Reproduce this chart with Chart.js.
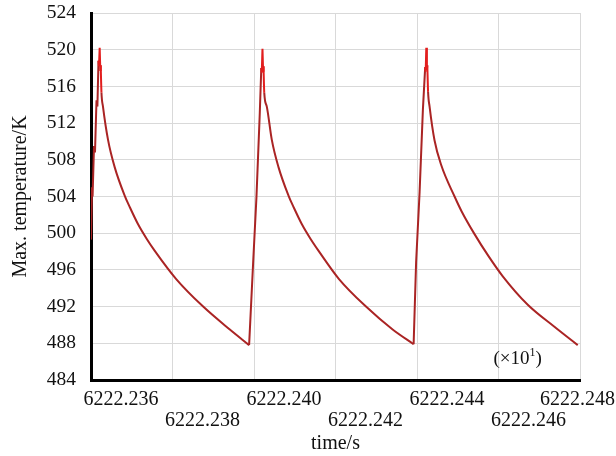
<!DOCTYPE html>
<html>
<head>
<meta charset="utf-8">
<title>Max. temperature</title>
<script src="https://cdn.jsdelivr.net/npm/chart.js@4.4.1/dist/chart.umd.min.js"></script>
<style>
  html, body { margin: 0; padding: 0; background: #fff; }
  #wrap { width: 616px; height: 456px; }
</style>
</head>
<body>
<div id="wrap"><canvas id="chart" width="616" height="456"></canvas></div>
<script>
"use strict";

// values
const timeS = [
  6222.236000, 6222.236025, 6222.236039, 6222.236074, 6222.236098, 6222.236135,
  6222.236157, 6222.236184, 6222.236196, 6222.236213, 6222.236228, 6222.236238,
  6222.236257, 6222.236294, 6222.236417, 6222.236581, 6222.236826, 6222.236956,
  6222.237152, 6222.237365, 6222.237561, 6222.238091, 6222.238752, 6222.239407,
  6222.239880,
  6222.239978, 6222.240061, 6222.240142, 6222.240179, 6222.240191, 6222.240208,
  6222.240223, 6222.240233, 6222.240252, 6222.240314, 6222.240436, 6222.240601,
  6222.240846, 6222.240976, 6222.241172, 6222.241385, 6222.241581, 6222.242086,
  6222.242748, 6222.243402, 6222.243917,
  6222.243978, 6222.244064, 6222.244145, 6222.244201, 6222.244213, 6222.244228,
  6222.244243, 6222.244253, 6222.244272, 6222.244309, 6222.244431, 6222.244596,
  6222.244922, 6222.245093, 6222.245412, 6222.245755, 6222.246105, 6222.246718,
  6222.247372, 6222.247944
];
const maxTempK = [
  499.3, 505.0, 504.0, 509.5, 508.8, 514.5,
  513.8, 518.8, 518.2, 520.2, 517.8, 518.3,
  515.3, 513.8, 510.2, 507.2, 504.1, 502.8,
  501.0, 499.4, 498.1, 495.0, 492.0, 489.5,
  487.8,
  496.7, 504.0, 513.1, 518.0, 517.5, 520.1,
  517.7, 518.2, 515.3, 513.8, 510.2, 507.2,
  504.1, 502.8, 501.0, 499.4, 498.1, 495.0,
  492.0, 489.5, 487.9,
  496.8, 504.5, 513.5, 518.1, 517.6, 520.2,
  517.8, 518.3, 515.4, 513.8, 510.1, 507.4,
  504.0, 502.4, 499.9, 497.5, 495.3, 492.2,
  489.8, 487.8
];
const xTickLabels = ["6222.236", "6222.238", "6222.240", "6222.242", "6222.244", "6222.246", "6222.248"];
const yTickValues = [484, 488, 492, 496, 500, 504, 508, 512, 516, 520, 524];

const serif = '"Liberation Serif", "Times New Roman", serif';
const gridColor = "#d9d9d9";
const lineColor = "rgb(170, 36, 36)";
const peakColor = "rgb(226, 30, 30)";

// long falling runs are the cooling curves: drawn smooth, the rest straight
const inDecay = new Array(maxTempK.length).fill(false);
const decayEdge = new Array(maxTempK.length).fill(false);
for (let i = 0; i < maxTempK.length - 1; ) {
  let j = i;
  while (j + 1 < maxTempK.length && maxTempK[j + 1] < maxTempK[j]) j++;
  if (j - i >= 5) {
    for (let k = i; k <= j; k++) inDecay[k] = true;
    decayEdge[i] = decayEdge[j] = true;
  }
  i = Math.max(j, i + 1);
}

const smoothData = timeS.map((t, i) => ({ x: t, y: inDecay[i] ? maxTempK[i] : null }));
const straightData = timeS.map((t, i) => ({ x: t, y: (!inDecay[i] || decayEdge[i]) ? maxTempK[i] : null }));

function peakSegment(c) {
  return (c.p0.parsed.y > 514 && c.p1.parsed.y > 514) ? peakColor : undefined;
}

// x labels sit to the right of their ticks, alternating in two rows
const xLabelPlugin = {
  id: "xLabels",
  afterDraw(chart) {
    const ctx = chart.ctx;
    const xs = chart.scales.x;
    const area = chart.chartArea;
    ctx.save();
    ctx.fillStyle = "#111";
    ctx.font = "20px " + serif;
    ctx.textAlign = "center";
    ctx.textBaseline = "alphabetic";
    xTickLabels.forEach((lab, i) => {
      const px = xs.getPixelForValue(Number(lab));
      const w = ctx.measureText(lab).width;
      const cx = Math.min(px + 30, chart.width - 1 - w / 2);
      const cy = i % 2 === 0 ? area.bottom + 25 : area.bottom + 45.5;
      ctx.fillText(lab, cx, cy);
    });

    // (×10¹) note
    let x = xs.getPixelForValue(6222.246) - 5;
    const base = area.bottom - 16;
    ctx.textAlign = "left";
    ctx.font = "19px " + serif;
    ctx.fillText("(\u00d710", x, base);
    x += ctx.measureText("(\u00d710").width;
    ctx.font = "12px " + serif;
    ctx.fillText("1", x, base - 8);
    x += ctx.measureText("1").width;
    ctx.font = "19px " + serif;
    ctx.fillText(")", x, base);
    ctx.restore();
  }
};

const ctx = document.getElementById("chart").getContext("2d");

new Chart(ctx, {
  type: "line",
  data: {
    datasets: [{
      label: "Max. temperature",
      data: straightData,
      borderColor: lineColor,
      borderWidth: 2,
      pointRadius: 0,
      tension: 0,
      spanGaps: false,
      segment: { borderColor: peakSegment }
    }, {
      label: "cooling",
      data: smoothData,
      borderColor: lineColor,
      borderWidth: 2,
      pointRadius: 0,
      cubicInterpolationMode: "monotone",
      spanGaps: false,
      segment: { borderColor: peakSegment }
    }]
  },
  options: {
    responsive: false,
    animation: false,
    layout: { padding: { left: 0, right: 36, top: 13, bottom: 0 } },
    plugins: {
      legend: { display: false },
      tooltip: { enabled: false }
    },
    scales: {
      x: {
        type: "linear",
        min: 6222.236,
        max: 6222.248,
        afterBuildTicks: scale => {
          scale.ticks = xTickLabels.map(v => ({ value: Number(v) }));
        },
        afterFit: scale => {
          scale.height = 76;
          scale.paddingLeft = 0;
          scale.paddingRight = 0;
        },
        ticks: { display: false },
        grid: { color: gridColor, lineWidth: 1, drawTicks: false },
        border: { color: "#000", width: 3 },
        title: {
          display: true,
          text: "time/s",
          color: "#111",
          font: { family: serif, size: 20 },
          padding: { top: 0, bottom: 0 }
        }
      },
      y: {
        min: 484,
        max: 524,
        afterBuildTicks: scale => {
          scale.ticks = yTickValues.map(v => ({ value: v }));
        },
        afterFit: scale => {
          scale.width = 91;
          scale.paddingTop = 0;
          scale.paddingBottom = 0;
        },
        ticks: {
          color: "#111",
          padding: 15,
          font: { family: serif, size: 19.5 }
        },
        grid: { color: gridColor, lineWidth: 1, drawTicks: false },
        border: { color: "#000", width: 3 },
        title: {
          display: true,
          text: "Max. temperature/K",
          color: "#111",
          font: { family: serif, size: 20 },
          padding: { top: 9, bottom: 0 }
        }
      }
    }
  },
  plugins: [xLabelPlugin]
});
</script>
</body>
</html>
